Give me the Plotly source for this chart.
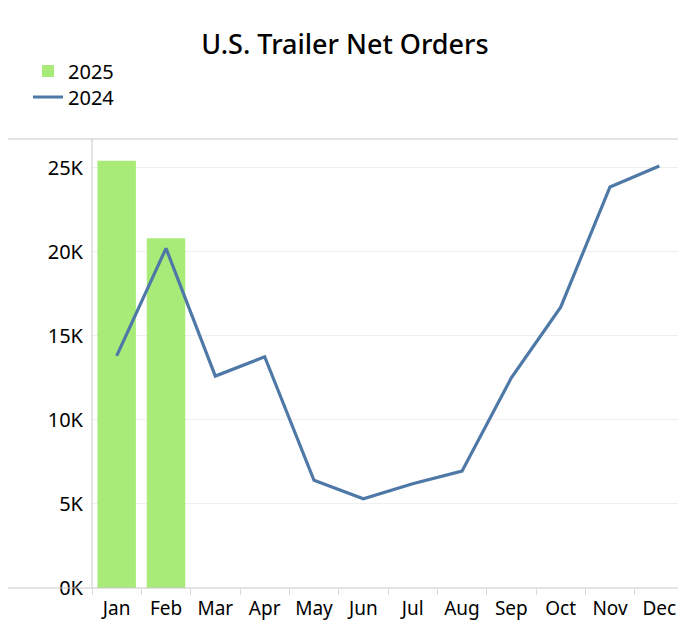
import plotly.graph_objects as go

months = ['Jan', 'Feb', 'Mar', 'Apr', 'May', 'Jun', 'Jul', 'Aug', 'Sep', 'Oct', 'Nov', 'Dec']
orders_2025 = [25400, 20800]
orders_2024 = [13800, 20200, 12600, 13750, 6400, 5300, 6200, 6950, 12500, 16700, 23850, 25100]
y_ticks = [0, 5000, 10000, 15000, 20000, 25000]
y_tick_text = ['0K', '5K', '10K', '15K', '20K', '25K']

font_name = 'Noto Sans'
# the page body adds an 8px margin, so the figure is drawn 8px smaller
W, H = 678, 616
left, right, top, bottom = 84, 2, 131, 36
plot_w = W - left - right

fig = go.Figure()
fig.add_trace(go.Bar(x=months[:len(orders_2025)], y=orders_2025, name='2025',
                     marker=dict(color='#a9eb78', line=dict(width=0)),
                     width=0.78, legend='legend'))
fig.add_trace(go.Scatter(x=months, y=orders_2024, name='2024', mode='lines',
                         line=dict(color='#4e79a7', width=3.2), legend='legend2'))

legend_style = dict(xref='container', yref='container', x=20 / W,
                    xanchor='left', yanchor='middle', bgcolor='rgba(0,0,0,0)',
                    font=dict(size=20, color='black'), itemwidth=30)

fig.update_layout(
    width=W, height=H,
    margin=dict(l=left, r=right, t=top, b=bottom, autoexpand=False),
    plot_bgcolor='white', paper_bgcolor='white',
    font=dict(family=font_name, size=20, color='black'),
    title=dict(text='U.S. Trailer Net Orders', x=(345 - 8) / W, xref='container', xanchor='center',
               y=1 - 37 / H, yref='container', yanchor='middle',
               font=dict(family=font_name, size=27, color='black', weight=500)),
    showlegend=True,
    legend=dict(legend_style, y=1 - 63 / H),
    legend2=dict(legend_style, y=1 - 89 / H),
    bargap=0.22,
)
fig.update_xaxes(type='category', categoryorder='array', categoryarray=months,
                 range=[-0.5, 11.5], showgrid=False, showline=False, zeroline=False,
                 ticks='outside', tickson='boundaries', ticklen=6, tickcolor='#d9d9d9',
                 ticklabelstandoff=7, tickangle=0,
                 tickfont=dict(size=19, color='black'), automargin=False)
fig.update_yaxes(range=[0, 26700], tickvals=y_ticks, ticktext=y_tick_text,
                 showgrid=True, gridcolor='#efefef', gridwidth=1, zeroline=False,
                 showline=False, ticks='', ticklabelstandoff=8,
                 tickfont=dict(size=20, color='black'), automargin=False)

# frame lines like the original worksheet
xl = -left / plot_w
line_style = dict(color='#c8c8c8', width=1)
fig.add_shape(type='line', xref='paper', yref='paper', x0=xl, x1=1, y0=1, y1=1, line=line_style)
fig.add_shape(type='line', xref='paper', yref='paper', x0=xl, x1=1, y0=0, y1=0, line=line_style)
fig.add_shape(type='line', xref='paper', yref='paper', x0=0, x1=0, y0=0, y1=1, line=line_style)
fig.add_shape(type='line', xref='paper', yref='paper', x0=1, x1=1, y0=0, y1=1, line=line_style)

fig.write_html('out.html')
